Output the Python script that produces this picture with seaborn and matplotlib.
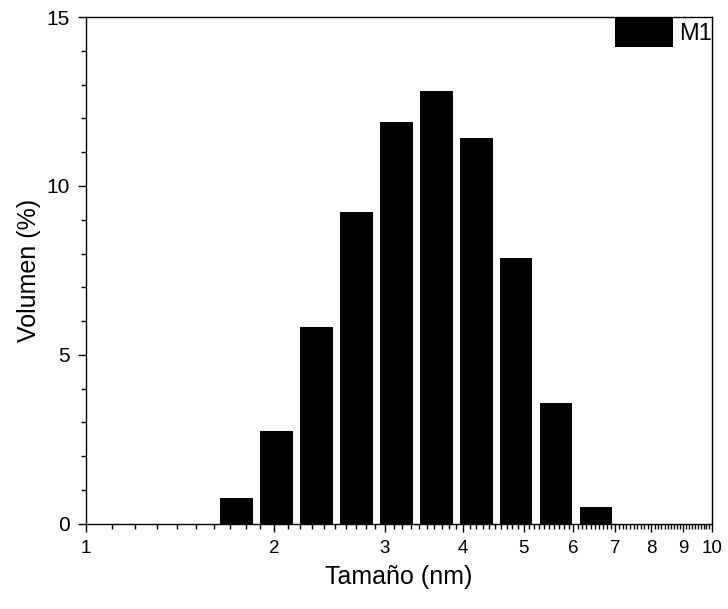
import matplotlib
matplotlib.use("Agg")
import matplotlib.pyplot as plt
from matplotlib.ticker import FixedLocator, NullFormatter
import seaborn as sns
import numpy as np
import pandas as pd

# particle size distribution (volume %)
sizes = [1.74, 2.02, 2.33, 2.70, 3.13, 3.62, 4.19, 4.86, 5.63, 6.52]
volume = [0.77, 2.75, 5.83, 9.23, 11.9, 12.8, 11.42, 7.87, 3.58, 0.5]
x_ticks = [1, 2, 3, 4, 5, 6, 7, 8, 9, 10]
y_ticks = [0, 5, 10, 15]

sns.set_style("ticks")
plt.rcParams['font.family'] = ['Liberation Sans', 'DejaVu Sans']
plt.rcParams['xtick.direction'] = 'out'
plt.rcParams['ytick.direction'] = 'out'
for k in ['text.color', 'axes.labelcolor', 'xtick.color', 'ytick.color', 'axes.edgecolor']:
    plt.rcParams[k] = 'black'

df = pd.DataFrame({"size": sizes, "vol": volume})

fig = plt.figure(figsize=(7.28, 6.09), dpi=100)
ax = fig.add_axes([0.118, 0.140, 0.860, 0.832])

# bin edges in log space around the centres
lc = np.log10(sizes)
step = np.mean(np.diff(lc))
edges = lc[0] - step / 2 + step * np.arange(len(sizes) + 1)

sns.histplot(data=df, x="size", weights="vol", bins=edges.tolist(), log_scale=True,
             shrink=0.82, color="black", alpha=1, edgecolor="none", linewidth=0,
             label="M1", ax=ax)

ax.set_xlim(1, 10)
ax.set_ylim(0, 15)
ax.xaxis.set_major_locator(FixedLocator(x_ticks))
ax.set_xticklabels([str(t) for t in x_ticks])
minor = [round(v, 1) for v in np.arange(1.1, 10, 0.1) if abs(v - round(v)) > 1e-6]
ax.xaxis.set_minor_locator(FixedLocator(minor))
ax.xaxis.set_minor_formatter(NullFormatter())
ax.set_yticks(y_ticks)
ax.set_yticks(range(0, 16), minor=True)

ax.tick_params(which='major', length=6, width=1, pad=5.5, color='black')
ax.tick_params(axis='x', which='major', labelsize=13.5)
ax.tick_params(axis='y', which='major', labelsize=15)
ax.tick_params(which='minor', length=3.5, width=1, color='black')
for s in ax.spines.values():
    s.set_visible(True)
    s.set_linewidth(1)
    s.set_color('black')

ax.set_xlabel("Tamaño (nm)", fontsize=18, labelpad=6)
ax.set_ylabel("Volumen (%)", fontsize=18, labelpad=4)

ax.legend(loc="upper right", frameon=False, fontsize=17, handlelength=2.45,
          handleheight=1.58, borderaxespad=0.0, borderpad=0.0, handletextpad=0.25)

fig.savefig("out.png", dpi=100)
